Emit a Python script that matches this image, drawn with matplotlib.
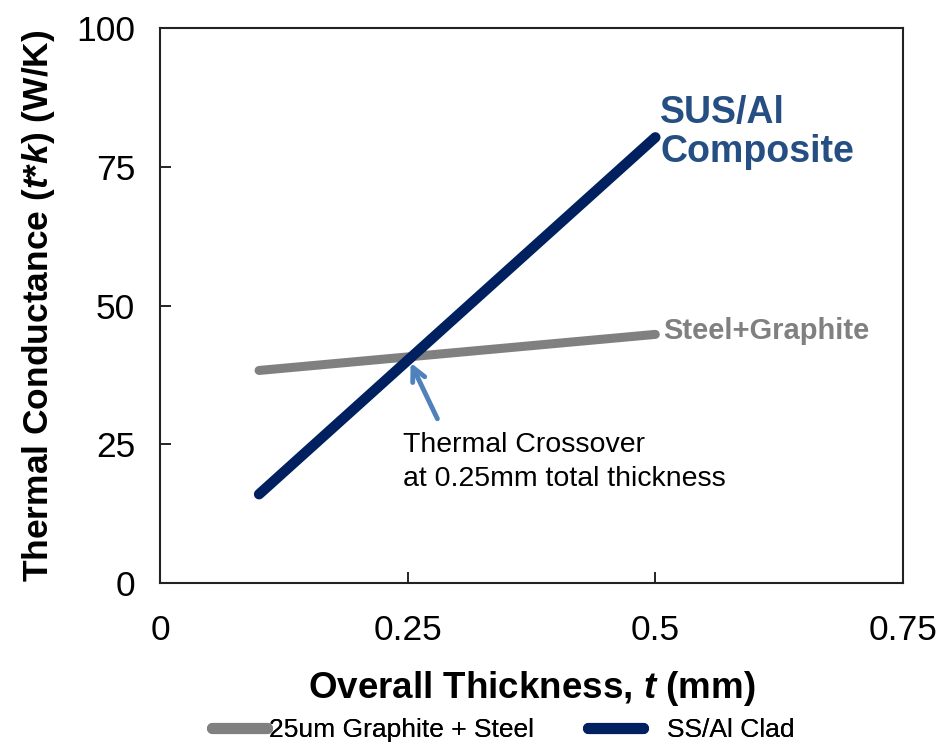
import matplotlib
matplotlib.use("Agg")
import matplotlib.pyplot as plt
from matplotlib.lines import Line2D

plt.rcParams['font.family'] = ['Liberation Sans', 'DejaVu Sans']
plt.rcParams['mathtext.fontset'] = 'custom'
plt.rcParams['mathtext.it'] = 'Liberation Sans:bold:italic'
plt.rcParams['mathtext.rm'] = 'Liberation Sans:bold'
plt.rcParams['mathtext.bf'] = 'Liberation Sans:bold'

# Thermal conductance vs overall thickness
thickness = [0.1, 0.5]
graphite_steel = [38.3, 44.8]
ss_al_clad = [16.0, 80.3]
crossover_x = 0.253
crossover_y = 39.7

series_names = ["25um Graphite + Steel", "SS/Al Clad"]
x_ticks = [0, 0.25, 0.5, 0.75]
x_tick_labels = ["0", "0.25", "0.5", "0.75"]
y_ticks = [0, 25, 50, 75, 100]

gray = "#808080"
navy = "#002060"
label_blue = "#254E82"
arrow_blue = "#4F81BD"

fig = plt.figure(figsize=(9.49, 7.45), dpi=100)
ax = fig.add_axes([0.1686, 0.2174, 0.9515 - 0.1686, 0.9624 - 0.2174])

ax.plot(thickness, graphite_steel, color=gray, lw=6.5, solid_capstyle='round',
        label=series_names[0])
ax.plot(thickness, ss_al_clad, color=navy, lw=7.5, solid_capstyle='round',
        label=series_names[1])

ax.set_xlim(0, 0.75)
ax.set_ylim(0, 100)
ax.set_xticks(x_ticks)
ax.set_xticklabels(x_tick_labels)
ax.set_yticks(y_ticks)
ax.tick_params(direction='in', length=8, width=1.2, labelsize=25.5)
ax.tick_params(axis='x', pad=22)
ax.tick_params(axis='y', pad=18)
for s in ax.spines.values():
    s.set_linewidth(1.5)
    s.set_color("#222222")

ax.set_xlabel("Overall Thickness, $t$ (mm)", fontsize=26.5, fontweight='bold', labelpad=16)
ax.set_ylabel("Thermal Conductance ($t$*$k$) (W/K)", fontsize=25.5, fontweight='bold', labelpad=14)

ax.text(0.505, 74.5, "SUS/Al\nComposite", color=label_blue, fontsize=27,
        fontweight='bold', ha='left', va='bottom', linespacing=1.1)
ax.text(0.508, 45.5, "Steel+Graphite", color=gray, fontsize=21,
        fontweight='bold', ha='left', va='center')

ax.annotate("", xy=(crossover_x, crossover_y), xytext=(0.28, 29.6),
            arrowprops=dict(arrowstyle='->', color=arrow_blue, lw=3.5,
                            mutation_scale=24, shrinkA=0, shrinkB=0))
ax.text(0.245, 27.3, "Thermal Crossover\nat 0.25mm total thickness", fontsize=20.5,
        ha='left', va='top', linespacing=1.4)

# Legend entries below the plot, each placed on its own
legend_specs = [(gray, series_names[0], 212 / 949, 0.05),
                (navy, series_names[1], 588 / 949, 0.9)]
for color, name, x0, pad in legend_specs:
    h = Line2D([], [], color=color, lw=8, solid_capstyle='round')
    leg = fig.legend([h], [name], loc='center left', bbox_to_anchor=(x0, 0.02),
                     frameon=False, fontsize=19, borderpad=0, borderaxespad=0,
                     handlelength=2.1, handletextpad=pad)
    fig.add_artist(leg)

fig.savefig("out.png", dpi=100)
